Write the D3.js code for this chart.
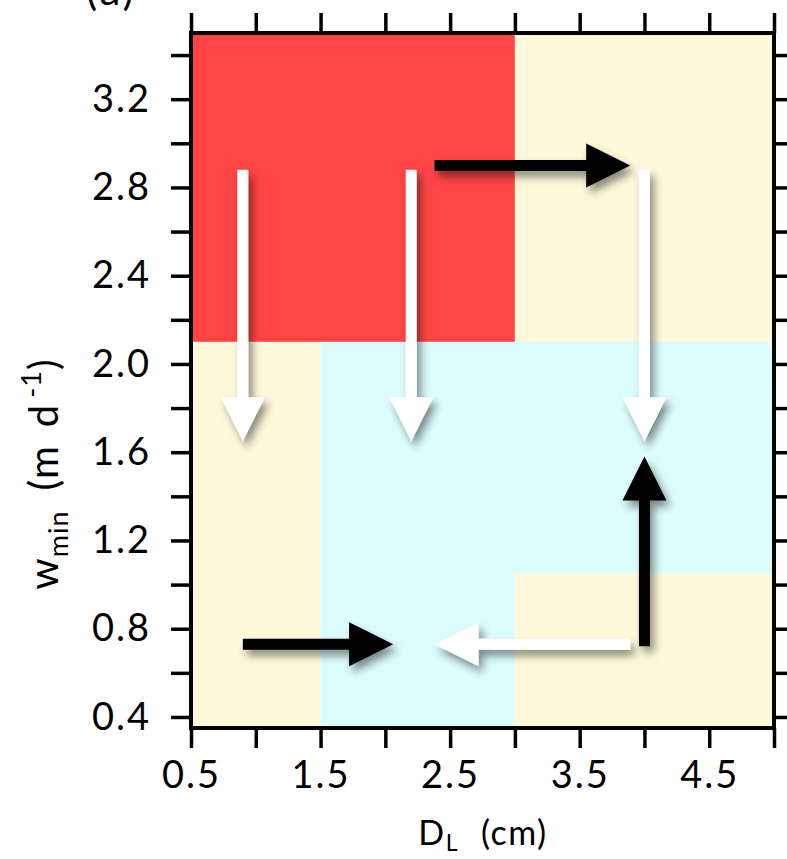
<!DOCTYPE html>
<html>
<head>
<meta charset="utf-8">
<script src="https://cdn.jsdelivr.net/npm/d3@7"></script>
<style>
  body { margin: 0; background: #fff; }
  text { font-family: Lato, "Open Sans", sans-serif; fill: #000; }
</style>
</head>
<body>
<div id="chart"></div>
<script>
// regime blocks: [D_L from, D_L to, w_min from, w_min to, colour]
var blocks = [
    [0.5, 3.0, 2.1, 3.5, '#ff4444'],
    [3.0, 5.0, 2.1, 3.5, '#fef9db'],
    [0.5, 1.5, 0.35, 2.1, '#fef9db'],
    [1.5, 5.0, 1.05, 2.1, '#dcfcfd'],
    [1.5, 3.0, 0.35, 1.05, '#dcfcfd'],
    [3.0, 5.0, 0.35, 1.05, '#fef9db']
];

// arrows: [x start, y start, x end, y end, colour]
var arrows = [
    [0.9, 2.88, 0.9, 1.65, '#fff'],
    [2.2, 2.88, 2.2, 1.65, '#fff'],
    [4.0, 2.88, 4.0, 1.65, '#fff'],
    [2.38, 2.9, 3.89, 2.9, '#000'],
    [4.0, 0.72, 4.0, 1.58, '#000'],
    [3.89, 0.73, 2.38, 0.73, '#fff'],
    [0.9, 0.73, 2.06, 0.73, '#000']
];

var xTicks = [0.5, 1.0, 1.5, 2.0, 2.5, 3.0, 3.5, 4.0, 4.5, 5.0];
var xLabels = [0.5, 1.5, 2.5, 3.5, 4.5];
var yTicks = [0.4, 0.6, 0.8, 1.0, 1.2, 1.4, 1.6, 1.8, 2.0, 2.2, 2.4, 2.6, 2.8, 3.0, 3.2, 3.4];
var yLabels = [0.4, 0.8, 1.2, 1.6, 2.0, 2.4, 2.8, 3.2];

var width = 787, height = 859;
var margin = {left: 191, top: 33, right: 13, bottom: 131};

var x = d3.scaleLinear().domain([0.5, 5.0]).range([margin.left, width - margin.right]);
var y = d3.scaleLinear().domain([0.35, 3.5]).range([height - margin.bottom, margin.top]);

var svg = d3.select('#chart').append('svg')
    .attr('width', width)
    .attr('height', height);

var defs = svg.append('defs');
var shadow = defs.append('filter')
    .attr('id', 'shadow')
    .attr('x', '-30%').attr('y', '-30%')
    .attr('width', '160%').attr('height', '160%');
shadow.append('feDropShadow')
    .attr('dx', 4).attr('dy', 6)
    .attr('stdDeviation', 4)
    .attr('flood-color', '#000')
    .attr('flood-opacity', 0.45);

// background blocks
svg.append('g').selectAll('rect')
    .data(blocks)
    .enter()
    .append('rect')
    .attr('x', function(d) { return x(d[0]); })
    .attr('width', function(d) { return x(d[1]) - x(d[0]); })
    .attr('y', function(d) { return y(d[3]); })
    .attr('height', function(d) { return y(d[2]) - y(d[3]); })
    .attr('fill', function(d) { return d[4]; });

// arrow outline in pixel space
function arrowPath(d) {
    var x0 = x(d[0]), y0 = y(d[1]), x1 = x(d[2]), y1 = y(d[3]);
    var len = Math.sqrt((x1 - x0) * (x1 - x0) + (y1 - y0) * (y1 - y0));
    var ux = (x1 - x0) / len, uy = (y1 - y0) / len;
    var px = -uy, py = ux;
    var shaft = 5.5, head = 22, headLen = 44;
    var bx = x1 - ux * headLen, by = y1 - uy * headLen;
    var pts = [
        [x0 + px * shaft, y0 + py * shaft],
        [bx + px * shaft, by + py * shaft],
        [bx + px * head, by + py * head],
        [x1, y1],
        [bx - px * head, by - py * head],
        [bx - px * shaft, by - py * shaft],
        [x0 - px * shaft, y0 - py * shaft]
    ];
    return 'M' + pts.map(function(p) { return p[0] + ',' + p[1]; }).join('L') + 'Z';
}

svg.append('g').selectAll('path')
    .data(arrows)
    .enter()
    .append('path')
    .attr('d', arrowPath)
    .attr('fill', function(d) { return d[4]; })
    .attr('filter', 'url(#shadow)');

// axes, ticks pointing outward on all four sides
var tickLen = 20;
var axisStyle = function(g) {
    g.select('.domain').remove();
    g.selectAll('.tick line').attr('stroke', '#000').attr('stroke-width', 3.5);
    g.selectAll('.tick text')
        .style('font-family', 'Lato, "Open Sans", sans-serif')
        .style('font-size', '38px')
        .style('letter-spacing', '2px')
        .attr('fill', '#000');
};

svg.append('g')
    .attr('transform', 'translate(0,' + y.range()[0] + ')')
    .call(d3.axisBottom(x).tickValues(xTicks).tickSize(tickLen).tickPadding(13)
        .tickFormat(function(d) { return xLabels.indexOf(d) >= 0 ? d3.format('.1f')(d) : ''; }))
    .call(axisStyle);

svg.append('g')
    .attr('transform', 'translate(0,' + y.range()[1] + ')')
    .call(d3.axisTop(x).tickValues(xTicks).tickSize(tickLen).tickFormat(''))
    .call(axisStyle);

svg.append('g')
    .attr('transform', 'translate(' + x.range()[0] + ',0)')
    .call(d3.axisLeft(y).tickValues(yTicks).tickSize(tickLen).tickPadding(20)
        .tickFormat(function(d) { return yLabels.indexOf(d) >= 0 ? d3.format('.1f')(d) : ''; }))
    .call(axisStyle);

svg.append('g')
    .attr('transform', 'translate(' + x.range()[1] + ',0)')
    .call(d3.axisRight(y).tickValues(yTicks).tickSize(tickLen).tickFormat(''))
    .call(axisStyle);

// frame
svg.append('rect')
    .attr('x', x.range()[0])
    .attr('y', y.range()[1])
    .attr('width', x.range()[1] - x.range()[0])
    .attr('height', y.range()[0] - y.range()[1])
    .attr('fill', 'none')
    .attr('stroke', '#000')
    .attr('stroke-width', 4);

// axis titles
var xt = svg.append('text')
    .attr('x', 483)
    .attr('y', 845)
    .attr('text-anchor', 'middle')
    .style('font-size', '34px')
    .style('letter-spacing', '1.5px');
xt.append('tspan').text('D');
xt.append('tspan').attr('dy', 6).style('font-size', '23px').text('L');
xt.append('tspan').attr('dy', -6).attr('dx', 22).text('(cm)');

var yt = svg.append('text')
    .attr('transform', 'translate(58,474) rotate(-90)')
    .attr('text-anchor', 'middle')
    .style('font-size', '40px')
    .style('letter-spacing', '1px');
yt.append('tspan').text('w');
yt.append('tspan').attr('dy', 10).style('font-size', '27px').text('min');
yt.append('tspan').attr('dy', -10).attr('dx', 20).text('(m');
yt.append('tspan').attr('dx', 18).text('d');
yt.append('tspan').attr('dy', -17).attr('dx', 6).style('font-size', '27px').text('-1');
yt.append('tspan').attr('dy', 17).text(')');

// panel label, cut at the top edge as in the source figure
svg.append('text')
    .attr('x', 86)
    .attr('y', 5)
    .style('font-size', '42px')
    .style('letter-spacing', '3px')
    .text('(a)');
</script>
</body>
</html>
